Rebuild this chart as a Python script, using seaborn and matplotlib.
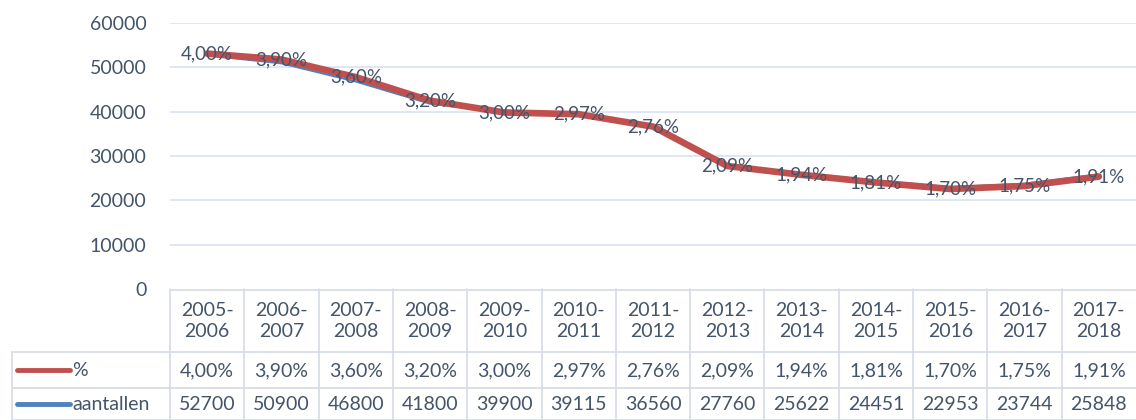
import pandas as pd
import seaborn as sns
import matplotlib.pyplot as plt

# Data
years = ["2005-2006", "2006-2007", "2007-2008", "2008-2009", "2009-2010",
         "2010-2011", "2011-2012", "2012-2013", "2013-2014", "2014-2015",
         "2015-2016", "2016-2017", "2017-2018"]
pct = [4.00, 3.90, 3.60, 3.20, 3.00, 2.97, 2.76, 2.09, 1.94, 1.81, 1.70, 1.75, 1.91]
aantallen = [52700, 50900, 46800, 41800, 39900, 39115, 36560, 27760, 25622,
             24451, 22953, 23744, 25848]
y_ticks = [0, 10000, 20000, 30000, 40000, 50000, 60000]

RED = "#C0504D"
BLUE = "#4F81BD"
TXT = "#44546A"
GRID = "#D9E1F2"
FS = 14

sns.set_theme(style="white")
plt.rcParams["font.family"] = ["Lato", "DejaVu Sans"]

W, H = 1136, 420
fig = plt.figure(figsize=(W / 100, H / 100), dpi=100)

df = pd.DataFrame({"pos": range(len(years)), "year": years,
                   "pct": pct, "aantallen": aantallen})

# main plot area
ax = fig.add_axes([170 / W, (H - 289) / H, 966 / W, (289 - 23) / H])
sns.lineplot(data=df, x="pos", y="aantallen", ax=ax, color=BLUE, linewidth=1.5)
ax.set_xlim(-0.5, len(years) - 0.5)
ax.set_ylim(0, 60000)
ax.set_yticks(y_ticks)
ax.set_yticklabels([str(t) for t in y_ticks], fontsize=FS, color=TXT)
ax.tick_params(axis="y", length=0, pad=17)
ax.set_xticks([])
ax.set_xlabel("")
ax.set_ylabel("")
for t in y_ticks[1:]:
    ax.axhline(t, color=GRID, linewidth=1.2, zorder=0)
for s in ax.spines.values():
    s.set_visible(False)

# percentage on hidden secondary axis
ax2 = ax.twinx()
sns.lineplot(data=df, x="pos", y="pct", ax=ax2, color=RED, linewidth=4.8)
ax2.set_ylim(0, 4.52)
ax2.set_yticks([])
ax2.set_ylabel("")
ax2.set_xlabel("")
for s in ax2.spines.values():
    s.set_visible(False)
for i, v in enumerate(pct):
    ax2.text(i, v, f"{v:.2f}%".replace(".", ","), ha="center", va="center",
             fontsize=13.5, color=TXT, zorder=5)

# data table below the plot
tab = fig.add_axes([170 / W, 0, 966 / W, (H - 289) / H])
tab.set_xlim(-0.5, len(years) - 0.5)
tab.set_ylim(420, 289)
tab.axis("off")
col_w = 966 / len(years)
x_leg = -0.5 - (170 - 12) / col_w
n = len(years)

line_kw = dict(color="#D6DCE5", linewidth=1.2, clip_on=False)
tab.plot([-0.5, n - 0.5], [289.5, 289.5], **line_kw)
tab.plot([x_leg, n - 0.5], [352, 352], **line_kw)
tab.plot([x_leg, n - 0.5], [388, 388], **line_kw)
tab.plot([x_leg, n - 0.5], [419.5, 419.5], **line_kw)
for k in range(n):
    tab.plot([k - 0.5, k - 0.5], [289, 420], **line_kw)
tab.plot([x_leg, x_leg], [352, 420], **line_kw)

for i, y in enumerate(years):
    a, b = y.split("-")
    tab.text(i, 321, f"{a}-\n{b}", ha="center", va="center", fontsize=FS,
             color=TXT, linespacing=1.3)
    tab.text(i, 371, f"{pct[i]:.2f}%".replace(".", ","), ha="center",
             va="center", fontsize=FS, color=TXT)
    tab.text(i, 404, str(aantallen[i]), ha="center", va="center",
             fontsize=FS, color=TXT)

lx0 = x_leg + 5 / col_w
lx1 = x_leg + 58 / col_w
tab.plot([lx0, lx1], [370, 370], color=RED, linewidth=3.5,
         solid_capstyle="round", clip_on=False)
tab.plot([lx0, lx1], [404, 404], color=BLUE, linewidth=3.5,
         solid_capstyle="round", clip_on=False)
tab.text(lx1 + 2 / col_w, 371, "%", ha="left", va="center", fontsize=FS,
         color=TXT)
tab.text(lx1 + 2 / col_w, 404, "aantallen", ha="left", va="center",
         fontsize=FS, color=TXT)

fig.savefig("out.png", dpi=100, facecolor="white")
